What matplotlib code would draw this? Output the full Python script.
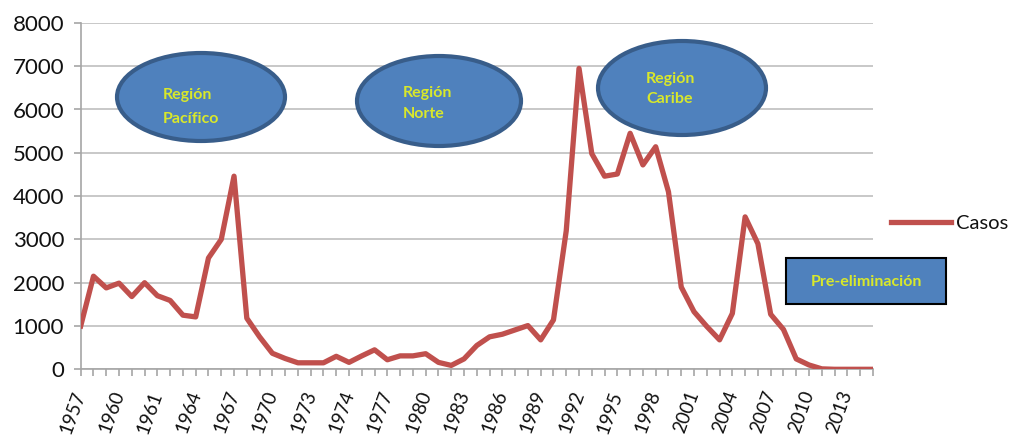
import matplotlib
matplotlib.use("Agg")
import matplotlib.pyplot as plt
from matplotlib.patches import Ellipse, Rectangle

plt.rcParams['font.family'] = ['Lato', 'DejaVu Sans']

# casos por año (63 categorías, etiqueta cada 3)
casos = [1000, 2150, 1880, 1990, 1680, 2000, 1700, 1590, 1250, 1210,
         2570, 3000, 4460, 1180, 750, 370, 250, 150, 150, 150,
         300, 160, 310, 450, 220, 310, 310, 360, 160, 90,
         240, 550, 750, 810, 910, 1010, 680, 1140, 3200, 6950,
         4980, 4460, 4510, 5450, 4720, 5140, 4100, 1900, 1330, 990,
         680, 1290, 3520, 2900, 1270, 920, 240, 100, 10, 0,
         0, 0, 0]
etiquetas = ["1957", "1960", "1961", "1964", "1967", "1970", "1973", "1974",
             "1977", "1980", "1983", "1986", "1989", "1992", "1995", "1998",
             "2001", "2004", "2007", "2010", "2013"]
regiones = ["Región\nPacífico", "Región\nNorte", "Región\nCaribe"]

W, H = 1013, 437
fig = plt.figure(figsize=(W / 100, H / 100), dpi=100)
ax = fig.add_axes([80.7 / W, 1 - 369.3 / H, (872.9 - 80.7) / W, (369.3 - 22.9) / H])

GRIS = "#A6A6A6"
TXT = "#111111"
ax.plot(range(len(casos)), casos, color="#C0504D", lw=3.8,
        solid_joinstyle="round", label="Casos", zorder=3)
ax.set_xlim(0, len(casos) - 1)
ax.set_ylim(0, 8000)
ax.set_yticks(range(0, 8001, 1000))
ax.grid(axis="y", color="#BFBFBF", lw=1.2)
ax.set_axisbelow(True)
for s in ("top", "right"):
    ax.spines[s].set_visible(False)
for s in ("left", "bottom"):
    ax.spines[s].set_color(GRIS)
    ax.spines[s].set_linewidth(1.2)

ax.set_xticks(range(0, len(casos), 3))
ax.set_xticks(range(len(casos)), minor=True)
ax.set_xticklabels(etiquetas, rotation=70, ha="right", va="center",
                   rotation_mode="anchor", fontsize=13.5, color=TXT)
ax.tick_params(axis="x", which="both", length=5, width=1.2, color=GRIS, pad=11)
ax.tick_params(axis="y", length=5, width=1.2, color=GRIS, pad=7,
               labelsize=16, labelcolor=TXT)

leg = fig.legend(loc="center left", bbox_to_anchor=(891 / W, 1 - 223 / H),
                 frameon=False, fontsize=14.5, handlelength=3.0,
                 handletextpad=0.25, borderpad=0, borderaxespad=0)
for t in leg.get_texts():
    t.set_color(TXT)


def fx(x):
    return x / W


def fy(y):
    return 1 - y / H


AZUL = "#4F81BD"
BORDE = "#385D8A"
AMARILLO = "#D9E82A"

# óvalos (centro px, ancho, alto, inicio texto x, y de cada línea)
ovalos = [((201, 97), 168, 88, 163, (95, 119)),
          ((439, 101), 164, 90, 403, (93, 114)),
          ((682, 88), 168, 94, 646, (79, 99))]
for (c, w, h, tx, ty), txt in zip(ovalos, regiones):
    fig.add_artist(Ellipse((fx(c[0]), fy(c[1])), w / W, h / H,
                           transform=fig.transFigure, facecolor=AZUL,
                           edgecolor=BORDE, lw=3))
    for yy, linea in zip(ty, txt.split("\n")):
        fig.text(fx(tx), fy(yy), linea, ha="left", va="center",
                 fontsize=11.5, fontweight="bold", color=AMARILLO)

fig.add_artist(Rectangle((fx(786), fy(304)), (946 - 786) / W, (304 - 258) / H,
                         transform=fig.transFigure, facecolor=AZUL,
                         edgecolor="black", lw=1.5))
fig.text(fx(866), fy(282), "Pre-eliminación", ha="center", va="center",
         fontsize=11.5, fontweight="bold", color=AMARILLO)

fig.savefig("out.png", dpi=100)
